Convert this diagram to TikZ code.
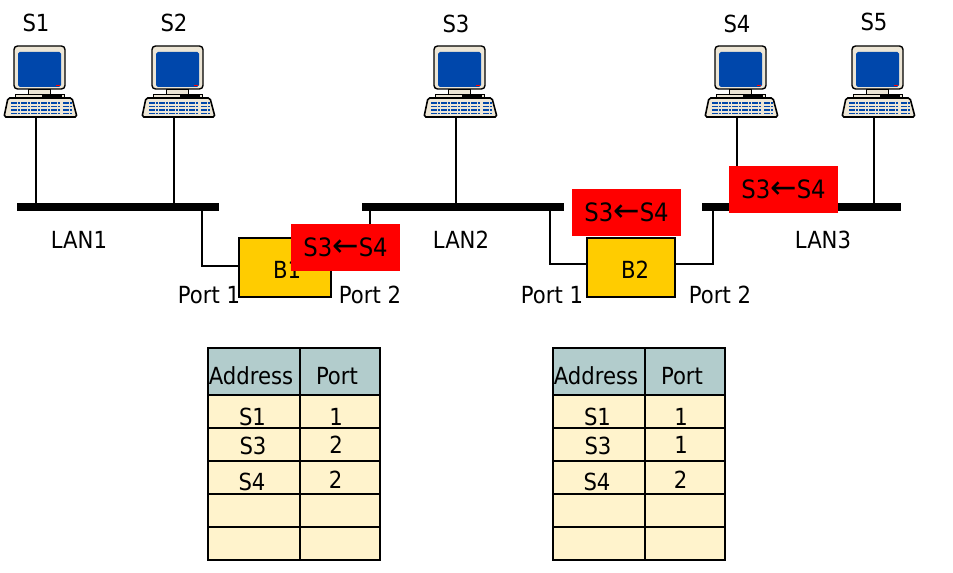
\documentclass[tikz,border=0pt]{standalone}
\usepackage{fontspec}
\setmainfont{DejaVu Sans Condensed}
\newfontfamily\arrowfont{DejaVu Sans}
\usetikzlibrary{positioning}
\definecolor{screenblue}{HTML}{0047AB}
\definecolor{casegrey}{HTML}{EDE6D6}
\definecolor{bridgeyellow}{HTML}{FFCC00}
\definecolor{headteal}{HTML}{B2CCCC}
\definecolor{rowcream}{HTML}{FFF3CC}

\newcommand{\framelabel}{S3{\arrowfont\fontsize{18pt}{18pt}\selectfont ←}S4}

\tikzset{
    computer/.pic={
        % Monitor
        \draw[line width=0.8pt, fill=casegrey, rounded corners=2pt] (-22,-72) rectangle (29,-29);
        \fill[screenblue, rounded corners=1pt] (-18,-66) rectangle (25,-31);
        \fill[red] (20,-33) rectangle (24,-31.5);
        % Stand
        \draw[line width=0.5pt, fill=casegrey] (-8,-29) rectangle (14,-24);
        \draw[line width=0.5pt, fill=casegrey] (-21,-24) rectangle (28,-20);
        \fill[black] (6,-23.5) rectangle (26,-20.5);
        % Keyboard
        \draw[line width=0.9pt, fill=casegrey, rounded corners=1pt] (-28,-20) -- (36,-20) -- (41,-1) -- (-32,-1) -- cycle;
        \foreach \row in {-15,-11.5,-8,-4.5} {
            \draw[screenblue, line width=1pt, dash pattern=on 1.5pt off 0.4pt] (-25,\row) -- (24,\row);
            \draw[screenblue, line width=1pt, dash pattern=on 1.5pt off 0.4pt] (27,\row) -- (37,\row);
        }
        \coordinate (-bottom) at (0,0);
    },
    lanbar/.style={fill=black, inner sep=0pt, minimum width=4.04cm, minimum height=0.16cm},
    wire/.style={line width=1.1pt},
    bridge/.style={draw, line width=1.1pt, fill=bridgeyellow, inner sep=0pt, minimum width=1.84cm, minimum height=1.18cm},
    frame/.style={fill=red, inner sep=0pt, minimum width=2.18cm, minimum height=0.94cm, font=\fontsize{14.4pt}{16pt}\selectfont},
    cell/.style={inner sep=0pt}
}

\begin{document}
\begin{tikzpicture}[x=0.02cm, y=-0.02cm, font=\fontsize{13.4pt}{16pt}\selectfont]

\useasboundingbox (0,0) rectangle (953,573);

% Computers
\pic (s1) at (36,118) {computer};
\pic (s2) at (174,118) {computer};
\pic (s3) at (456,118) {computer};
\pic (s4) at (737,118) {computer};
\pic (s5) at (874,118) {computer};

\node[cell] (s1label) at (36,23) {S1};
\node[cell] (s2label) at (174,23) {S2};
\node[cell] (s3label) at (456,24) {S3};
\node[cell] (s4label) at (737,24) {S4};
\node[cell] (s5label) at (874,22) {S5};

% LANs
\node[lanbar] (lan1) at (118,207) {};
\node[lanbar] (lan2) at (463,207) {};
\node[lanbar, minimum width=3.98cm] (lan3) at (801.5,207) {};

\node[cell] (lan1label) at (79,240) {LAN1};
\node[cell] (lan2label) at (461,240) {LAN2};
\node[cell] (lan3label) at (823,240) {LAN3};

\foreach \pc/\lan in {s1/lan1, s2/lan1, s3/lan2, s4/lan3, s5/lan3}
    \draw[wire] (\pc-bottom) -- (\pc-bottom |- \lan.center);

% Bridges
\node[bridge] (b1) at (285,267.5) {};
\node[bridge, minimum width=1.76cm] (b2) at (631,267.5) {};
\node[cell] (b1label) at (287,270) {B1};
\node[cell] (b2label) at (635,270) {B2};

\coordinate (b1left) at (202,266);
\coordinate (b1right) at (370,266);
\coordinate (b2left) at (550,264);
\coordinate (b2right) at (713,264);

\draw[wire] (b1left |- lan1.center) -- (b1left) -- (b1left -| b1.west);
\draw[wire] (b1right |- lan2.center) -- (b1right) -- (b1right -| b1.east);
\draw[wire] (b2left |- lan2.center) -- (b2left) -- (b2left -| b2.west);
\draw[wire] (b2right |- lan3.center) -- (b2right) -- (b2right -| b2.east);

\node[cell] (port11) at (209,295) {Port 1};
\node[cell] (port12) at (370,295) {Port 2};
\node[cell] (port21) at (552,295) {Port 1};
\node[cell] (port22) at (720,295) {Port 2};

% Frames in flight
\node[frame] (frame1) at (345.5,247.5) {\framelabel};
\node[frame] (frame2) at (626.5,212.5) {\framelabel};
\node[frame] (frame3) at (783.5,189.5) {\framelabel};

% Tables
\foreach \tx/\tm/\te/\pa/\pb/\pc in {208/300/380/1/2/2, 553/645/725/1/1/2} {
    \fill[headteal] (\tx,348) rectangle (\te,395);
    \fill[rowcream] (\tx,395) rectangle (\te,560);
    \draw[line width=1pt] (\tx,348) rectangle (\te,560);
    \draw[line width=1pt] (\tm,348) -- (\tm,561);
    \foreach \ry in {395,428,461,494,527}
        \draw[line width=1pt] (\tx,\ry) -- (\te,\ry);
    \node[cell] (addr\tx) at (\tx+43,376) {Address};
    \node[cell] (port\tx) at (\tx+129,376) {Port};
    \node[cell] at (\tx+44.5,417) {S1};
    \node[cell] at (\tx+45,446) {S3};
    \node[cell] at (\tx+44,482) {S4};
    \node[cell] at (\tx+128,417) {\pa};
    \node[cell] at (\tx+128,445) {\pb};
    \node[cell] at (\tx+127.5,480) {\pc};
}

\end{tikzpicture}
\end{document}
